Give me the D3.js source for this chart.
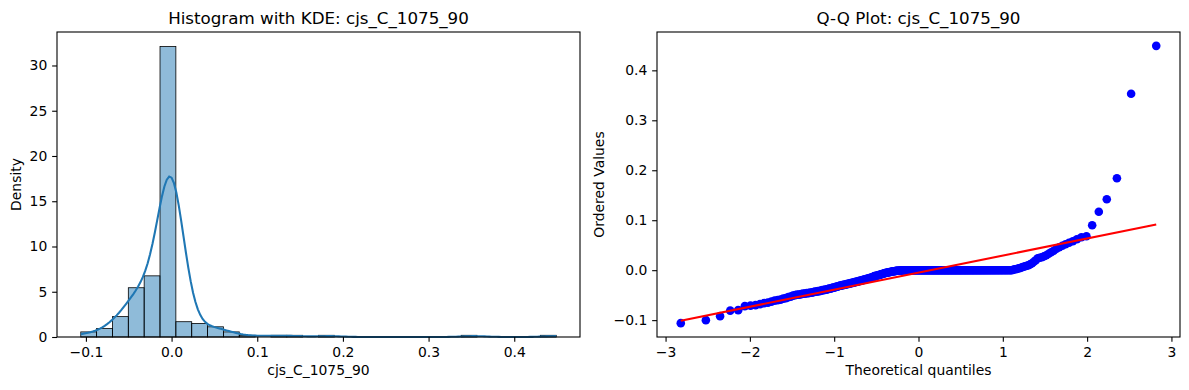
<!DOCTYPE html>
<html>
<head>
<meta charset="utf-8">
<script src="https://cdn.jsdelivr.net/npm/d3@7"></script>
<style>
  body { margin: 0; background: #fff; }
  text { font-family: "DejaVu Sans", sans-serif; fill: #000; }
</style>
</head>
<body>
<div id="chart"></div>
<script>
// figure size
const width = 1189;
const height = 390;

// titles and labels
const varName = "cjs_C_1075_90";
const histTitle = "Histogram with KDE: " + varName;
const qqTitle = "Q-Q Plot: " + varName;

// tick labels
const histTicksX = [-0.1, 0.0, 0.1, 0.2, 0.3, 0.4];
const histTicksY = [0, 5, 10, 15, 20, 25, 30];
const qqTicksX = [-3, -2, -1, 0, 1, 2, 3];
const qqTicksY = [-0.1, 0.0, 0.1, 0.2, 0.3, 0.4];

// sorted sample (288 values)
const sortedValues = [
  -0.106, -0.100, -0.092,
  -0.081, -0.080, -0.072, -0.071, -0.070,
  -0.068, -0.066, -0.065, -0.063, -0.061, -0.060, -0.059, -0.057, -0.056, -0.054, -0.053, -0.051,
  -0.050, -0.049, -0.049, -0.048, -0.047, -0.047, -0.046, -0.046, -0.045, -0.045,
  -0.044, -0.043, -0.043, -0.042, -0.042, -0.041, -0.040, -0.040, -0.039, -0.039,
  -0.038, -0.037, -0.037, -0.036, -0.035, -0.035, -0.034, -0.033, -0.033,
  -0.0318, -0.031, -0.031, -0.030, -0.030, -0.029, -0.029, -0.028, -0.028, -0.027,
  -0.027, -0.026, -0.026, -0.025, -0.025, -0.024, -0.024, -0.023, -0.023, -0.022,
  -0.022, -0.021, -0.021, -0.020, -0.020, -0.019, -0.019, -0.018, -0.018, -0.017,
  -0.017, -0.016, -0.016, -0.015, -0.015, -0.014,
  -0.013, -0.012, -0.012, -0.011, -0.011, -0.010, -0.010, -0.009, -0.009, -0.008,
  -0.008, -0.007, -0.007, -0.006, -0.006, -0.005, -0.005, -0.005, -0.004, -0.004,
  -0.004, -0.003, -0.003, -0.003, -0.002, -0.002, -0.002, -0.002, -0.001, -0.001,
  -0.001, -0.001, -0.001, -0.0005, -0.0005, -0.0005, -0.0005,
  0, 0, 0, 0, 0, 0, 0, 0, 0, 0, 0, 0, 0, 0, 0, 0,
  0, 0, 0, 0, 0, 0, 0, 0, 0, 0, 0, 0, 0, 0, 0, 0,
  0, 0, 0, 0, 0, 0, 0, 0, 0, 0, 0, 0, 0, 0, 0, 0,
  0, 0, 0, 0, 0, 0, 0, 0, 0, 0, 0, 0, 0, 0, 0, 0,
  0, 0, 0, 0, 0, 0, 0, 0, 0, 0, 0, 0, 0, 0, 0, 0,
  0, 0, 0, 0, 0, 0, 0, 0, 0, 0, 0, 0, 0, 0, 0, 0,
  0, 0, 0, 0, 0, 0, 0, 0, 0, 0, 0, 0, 0, 0, 0, 0,
  0, 0, 0, 0, 0, 0, 0, 0, 0, 0, 0, 0, 0, 0, 0, 0,
  0.001, 0.002, 0.002, 0.003, 0.004, 0.0045,
  0.006, 0.007, 0.008, 0.009, 0.010, 0.012, 0.014, 0.017, 0.020,
  0.024, 0.025, 0.026, 0.028, 0.030, 0.033, 0.036, 0.039,
  0.043, 0.046, 0.049, 0.052, 0.055, 0.058,
  0.062, 0.066, 0.068,
  0.090, 0.117, 0.142, 0.184, 0.353, 0.449
];

const nBins = 30;

// panel boxes (pixels)
const histBox = {left: 57, right: 580, top: 32, bottom: 337};
const qqBox = {left: 657, right: 1180, top: 32, bottom: 337};

const fontSize = 13.9;
const titleSize = 16.7;
const tickLen = 4.86;

const svg = d3.select("#chart")
  .append("svg")
  .attr("width", width)
  .attr("height", height)
  .attr("viewBox", [0, 0, width, height]);

svg.append("rect").attr("width", width).attr("height", height).attr("fill", "#fff");

/* ---------- histogram with KDE ---------- */

const n = sortedValues.length;
const vMin = d3.min(sortedValues);
const vMax = d3.max(sortedValues);
const vSpan = vMax - vMin;
const binW = vSpan / nBins;

const thresholds = d3.range(1, nBins).map(i => vMin + i * binW);
const bins = d3.bin().domain([vMin, vMax]).thresholds(thresholds)(sortedValues);
bins.forEach(b => b.density = b.length / (n * binW));

// gaussian kde, scott bandwidth, clipped to data range
const bw = d3.deviation(sortedValues) * Math.pow(n, -1 / 5);
const kdeGrid = d3.range(200).map(i => vMin + i * vSpan / 199);
const kde = kdeGrid.map(x => {
  const s = d3.sum(sortedValues, v => Math.exp(-0.5 * ((x - v) / bw) ** 2));
  return [x, s / (n * bw * Math.sqrt(2 * Math.PI))];
});

const maxDensity = d3.max([d3.max(bins, b => b.density), d3.max(kde, d => d[1])]);

const xHist = d3.scaleLinear()
  .domain([vMin - 0.05 * vSpan, vMax + 0.05 * vSpan])
  .range([histBox.left, histBox.right]);
const yHist = d3.scaleLinear()
  .domain([0, maxDensity * 1.05])
  .range([histBox.bottom, histBox.top]);

// empty bins are skipped, as matplotlib draws nothing visible for them
svg.append("g")
  .selectAll("rect")
  .data(bins.filter(b => b.length > 0))
  .join("rect")
    .attr("x", d => xHist(d.x0))
    .attr("y", d => yHist(d.density))
    .attr("width", d => xHist(d.x1) - xHist(d.x0))
    .attr("height", d => yHist(0) - yHist(d.density))
    .attr("fill", "rgba(31,119,180,0.5)")
    .attr("stroke", "#000")
    .attr("stroke-width", 0.8);

svg.append("path")
  .datum(kde)
  .attr("fill", "none")
  .attr("stroke", "#1f77b4")
  .attr("stroke-width", 2.08)
  .attr("d", d3.line().x(d => xHist(d[0])).y(d => yHist(d[1])));

/* ---------- Q-Q plot ---------- */

// inverse normal cdf (Acklam)
function normInv(p) {
  const a = [-3.969683028665376e+01, 2.209460984245205e+02, -2.759285104469687e+02,
             1.383577518672690e+02, -3.066479806614716e+01, 2.506628277459239e+00];
  const b = [-5.447609879822406e+01, 1.615858368580409e+02, -1.556989798598866e+02,
             6.680131188771972e+01, -1.328068155288572e+01];
  const c = [-7.784894002430293e-03, -3.223964580411365e-01, -2.400758277161838e+00,
             -2.549732539343734e+00, 4.374664141464968e+00, 2.938163982698783e+00];
  const dd = [7.784695709041462e-03, 3.224671290700398e-01, 2.445134137142996e+00,
              3.754408661907416e+00];
  const pl = 0.02425;
  let q, r;
  if (p < pl) {
    q = Math.sqrt(-2 * Math.log(p));
    return (((((c[0]*q+c[1])*q+c[2])*q+c[3])*q+c[4])*q+c[5]) / ((((dd[0]*q+dd[1])*q+dd[2])*q+dd[3])*q+1);
  } else if (p <= 1 - pl) {
    q = p - 0.5; r = q * q;
    return (((((a[0]*r+a[1])*r+a[2])*r+a[3])*r+a[4])*r+a[5])*q / (((((b[0]*r+b[1])*r+b[2])*r+b[3])*r+b[4])*r+1);
  } else {
    q = Math.sqrt(-2 * Math.log(1 - p));
    return -(((((c[0]*q+c[1])*q+c[2])*q+c[3])*q+c[4])*q+c[5]) / ((((dd[0]*q+dd[1])*q+dd[2])*q+dd[3])*q+1);
  }
}

// Filliben order statistic medians, as scipy probplot
const mLast = Math.pow(0.5, 1 / n);
const qqData = sortedValues.map((v, i) => {
  let m;
  if (i === 0) m = 1 - mLast;
  else if (i === n - 1) m = mLast;
  else m = (i + 1 - 0.3175) / (n + 0.365);
  return {q: normInv(m), v: v};
});

// least squares fit
const qMean = d3.mean(qqData, d => d.q);
const vMean = d3.mean(qqData, d => d.v);
const slope = d3.sum(qqData, d => (d.q - qMean) * (d.v - vMean)) / d3.sum(qqData, d => (d.q - qMean) ** 2);
const intercept = vMean - slope * qMean;

const qMin = qqData[0].q, qMax = qqData[n - 1].q;
const qSpan = qMax - qMin;

const xQQ = d3.scaleLinear()
  .domain([qMin - 0.05 * qSpan, qMax + 0.05 * qSpan])
  .range([qqBox.left, qqBox.right]);
const yQQ = d3.scaleLinear()
  .domain([vMin - 0.05 * vSpan, vMax + 0.05 * vSpan])
  .range([qqBox.bottom, qqBox.top]);

svg.append("g")
  .selectAll("circle")
  .data(qqData)
  .join("circle")
    .attr("cx", d => xQQ(d.q))
    .attr("cy", d => yQQ(d.v))
    .attr("r", 4.3)
    .attr("fill", "#0000ff");

svg.append("line")
  .attr("x1", xQQ(qMin)).attr("y1", yQQ(intercept + slope * qMin))
  .attr("x2", xQQ(qMax)).attr("y2", yQQ(intercept + slope * qMax))
  .attr("stroke", "#ff0000")
  .attr("stroke-width", 2.08);

/* ---------- axes, frames, labels ---------- */

function drawAxes(box, xs, ys, xt, yt, xFmt, yFmt) {
  const gx = svg.append("g")
    .attr("transform", `translate(0,${box.bottom})`)
    .call(d3.axisBottom(xs).tickValues(xt).tickSize(tickLen).tickPadding(4.86).tickFormat(xFmt));
  const gy = svg.append("g")
    .attr("transform", `translate(${box.left},0)`)
    .call(d3.axisLeft(ys).tickValues(yt).tickSize(tickLen).tickPadding(4.86).tickFormat(yFmt));
  [gx, gy].forEach(g => {
    g.select(".domain").remove();
    g.attr("font-size", fontSize).attr("font-family", "DejaVu Sans");
    g.selectAll("line").attr("stroke", "#000").attr("stroke-width", 1.1);
    g.selectAll("text").attr("fill", "#000");
  });
  svg.append("rect")
    .attr("x", box.left).attr("y", box.top)
    .attr("width", box.right - box.left).attr("height", box.bottom - box.top)
    .attr("fill", "none").attr("stroke", "#000").attr("stroke-width", 1.1);
}

const oneDec = d => (d < 0 ? "\u2212" : "") + Math.abs(d).toFixed(1);
const intFmt = d => (d < 0 ? "\u2212" : "") + Math.abs(d).toFixed(0);

drawAxes(histBox, xHist, yHist, histTicksX, histTicksY, oneDec, intFmt);
drawAxes(qqBox, xQQ, yQQ, qqTicksX, qqTicksY, intFmt, oneDec);

function addTitles(box, title, xlabel, ylabel, ylabelX) {
  const cx = (box.left + box.right) / 2;
  const cy = (box.top + box.bottom) / 2;
  svg.append("text").attr("x", cx).attr("y", 24)
    .attr("text-anchor", "middle").attr("font-size", titleSize).text(title);
  svg.append("text").attr("x", cx).attr("y", 375)
    .attr("text-anchor", "middle").attr("font-size", fontSize).text(xlabel);
  svg.append("text")
    .attr("transform", `translate(${ylabelX},${cy}) rotate(-90)`)
    .attr("text-anchor", "middle").attr("font-size", fontSize).text(ylabel);
}

addTitles(histBox, histTitle, varName, "Density", 21);
addTitles(qqBox, qqTitle, "Theoretical quantiles", "Ordered Values", 604);
</script>
</body>
</html>
